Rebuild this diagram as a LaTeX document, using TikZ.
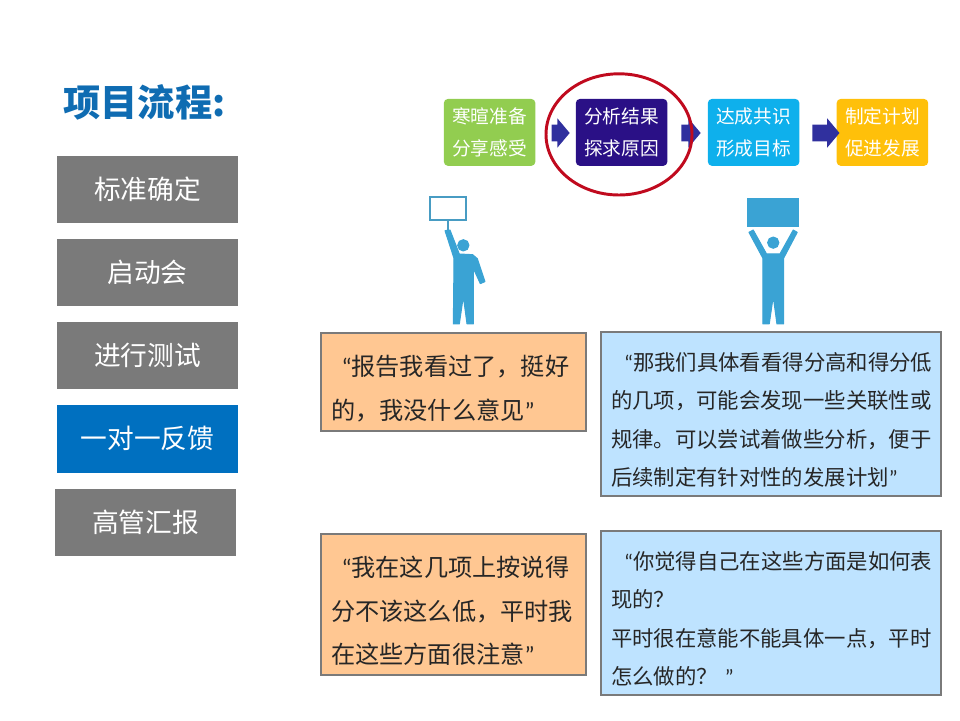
\documentclass[tikz,border=0pt]{standalone}
\usepackage{fontspec}
\setmainfont{Noto Sans CJK SC}
\newfontfamily\quotefont{Carlito}
\usepackage{xcolor}
\definecolor{titleblue}{RGB}{15,108,178}
\definecolor{menugray}{RGB}{122,122,122}
\definecolor{menublue}{RGB}{0,112,192}
\definecolor{figblue}{RGB}{58,163,212}
\definecolor{stepgreen}{RGB}{146,205,80}
\definecolor{steppurple}{RGB}{42,16,134}
\definecolor{stepcyan}{RGB}{14,176,236}
\definecolor{stepyellow}{RGB}{255,192,10}
\definecolor{arrowblue}{RGB}{48,48,158}
\definecolor{ringred}{RGB}{192,10,30}
\definecolor{boxorange}{RGB}{255,199,146}
\definecolor{boxblue}{RGB}{190,227,255}
\newcommand{\openq}{{\quotefont “}}
\newcommand{\closeq}{{\quotefont ”}}
\usepackage{tikz}
\usetikzlibrary{shapes.geometric,shapes.arrows}

\begin{document}
\begin{tikzpicture}[
    menu/.style={rectangle, minimum width=4.525cm, minimum height=1.69cm, inner sep=0pt, text=white, fill=menugray, font=\fontsize{19}{23}\selectfont},
    stepbox/.style={rectangle, rounded corners=3pt, minimum width=2.29cm, minimum height=1.675cm, inner sep=0pt, align=center, text=white, font=\fontsize{13.3}{22.8}\selectfont},
    blockarrow/.style={single arrow, single arrow head extend=0.16cm, single arrow tip angle=100, minimum width=0.72cm, inner xsep=0pt, inner ysep=0.2cm, fill=arrowblue},
    orangebox/.style={rectangle, draw=menugray, line width=1.4pt, fill=boxorange, minimum height=2.45cm, inner xsep=0.25cm, text width=6.125cm, align=left, text=black!85, font=\fontsize{17.2}{31}\selectfont},
    bluebox/.style={rectangle, draw=menugray, line width=1.4pt, fill=boxblue, minimum height=4.1cm, inner xsep=0.25cm, text width=8cm, align=left, text=black!85, font=\fontsize{15.2}{27.2}\selectfont},
    figure/.style={fill=figblue, draw=figblue, line width=0.7pt, line join=round},
]
\useasboundingbox (0,0) rectangle (24,18);

% Left column: flow menu
\node[text=titleblue, font=\fontsize{26.5}{30}\bfseries\selectfont] (title) at (3.61,15.45) {项目流程:};
\node[menu] (m1) at (3.69,13.26) {标准确定};
\node[menu] (m2) at (3.69,11.19) {启动会};
\node[menu] (m3) at (3.69,9.11) {进行测试};
\node[menu, fill=menublue] (m4) at (3.69,7.03) {一对一反馈};
\node[menu] (m5) at (3.64,4.94) {高管汇报};

% Top row: four steps
\node[stepbox, fill=stepgreen] (s1) at (12.24,14.69) {寒暄准备\\分享感受};
\node[stepbox, fill=steppurple] (s2) at (15.54,14.69) {分析结果\\探求原因};
\node[stepbox, fill=stepcyan] (s3) at (18.84,14.69) {达成共识\\形成目标};
\node[stepbox, fill=stepyellow] (s4) at (22.06,14.69) {制定计划\\促进发展};
\node[blockarrow, minimum height=0.45cm] (a1) at (13.93,14.675) {};
\node[blockarrow, minimum height=0.48cm] (a2) at (17.19,14.675) {};
\node[blockarrow, minimum height=0.68cm] (a3) at (20.56,14.675) {};
\node[ellipse, draw=ringred, line width=2.1pt, minimum width=3.65cm, minimum height=3.03cm, inner sep=0pt] (ring) at (15.475,14.64) {};

% Two figures holding signs
\begin{scope}[shift={(10,13.5)}, x=0.008333cm, y=-0.008333cm]
\draw[draw=figblue!80!gray, line width=1.4pt] (90,50) rectangle (199,119);
\draw[draw=figblue!80!gray, line width=1.4pt] (144,119) -- (144,150);
\filldraw[figure] (190,196) circle (17);
\filldraw[figure] (160,432) -- (162,235) -- (135,152) -- (150,150) -- (178,222) -- (218,224) -- (232,236) -- (255,305) -- (241,311) -- (220,265) -- (220,432) -- (201,432) -- (190,350) -- (178,432) -- cycle;
\fill[fill=figblue] (1042,55) rectangle (1198,140);
\filldraw[figure] (1120,188) circle (17);
\filldraw[figure] (1089,432) -- (1089,235) -- (1047,157) -- (1060,150) -- (1100,222) -- (1140,222) -- (1180,150) -- (1192,157) -- (1151,235) -- (1151,432) -- (1131,432) -- (1120,350) -- (1108,432) -- cycle;
\end{scope}

% Quote boxes
\node[orangebox] (o1) at (11.34,8.45) {\rule{0pt}{0.83cm}\hspace*{0.26cm}\openq 报告我看过了，挺好\\的，我没什么意见\closeq};
\node[orangebox, minimum height=3.525cm] (o2) at (11.34,2.89) {\rule{0pt}{0.83cm}\hspace*{0.26cm}\openq 我在这几项上按说得\\分不该这么低，平时我\\在这些方面很注意\closeq};
\node[bluebox] (b1) at (19.275,7.65) {\rule{0pt}{0.74cm}\hspace*{0.33cm}\openq 那我们具体看看得分高和得分低\\的几项，可能会发现一些关联性或\\规律。可以尝试着做些分析，便于\\后续制定有针对性的发展计划\closeq};
\node[bluebox] (b2) at (19.275,2.675) {\rule{0pt}{0.74cm}\hspace*{0.33cm}\openq 你觉得自己在这些方面是如何表\\现的？\\平时很在意能不能具体一点，平时\\怎么做的？ \closeq};
\end{tikzpicture}
\end{document}
